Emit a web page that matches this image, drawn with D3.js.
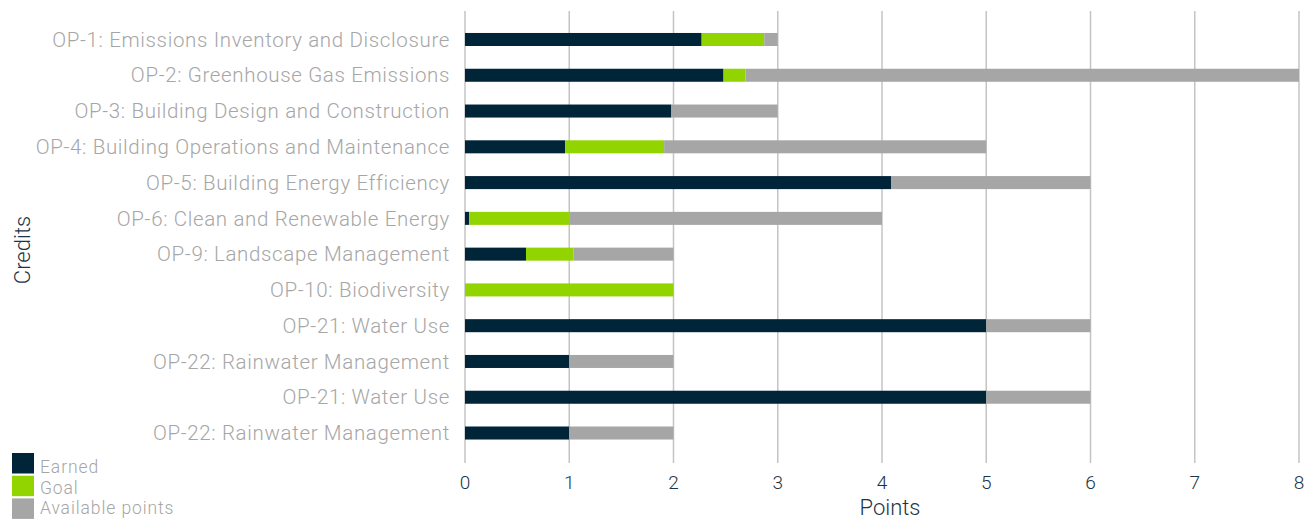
<!DOCTYPE html>
<meta charset="utf-8">
<html>
  <head>
    <style>
      body { margin: 0; background: #fff; }
      text { font-family: Roboto, "Open Sans", sans-serif; font-weight: 300; }
      .credit-label { fill: #a6a6a6; font-size: 20.5px; letter-spacing: 0.65px; }
      .tick-label { fill: #1d3444; font-size: 19px; }
      .axis-title { fill: #1d3444; font-size: 22px; }
      .legend-label { fill: #a6a6a6; font-size: 17.5px; letter-spacing: 0.9px; }
      .grid { stroke: #c4c4c4; stroke-width: 1.5px; }
    </style>
    <script src="https://d3js.org/d3.v7.min.js"></script>
  </head>
  <body>
    <div id="chart"></div>
    <script>
      var credits = ["OP-1: Emissions Inventory and Disclosure", "OP-2: Greenhouse Gas Emissions",
                     "OP-3: Building Design and Construction", "OP-4: Building Operations and Maintenance",
                     "OP-5: Building Energy Efficiency", "OP-6: Clean and Renewable Energy",
                     "OP-9: Landscape Management", "OP-10: Biodiversity", "OP-21: Water Use",
                     "OP-22: Rainwater Management", "OP-21: Water Use", "OP-22: Rainwater Management"];
      // segment lengths, stacked left to right
      var earned    = [2.27, 2.48, 1.98, 0.96, 4.09, 0.04, 0.585, 0, 5, 1, 5, 1];
      var goal      = [0.60, 0.21, 0, 0.95, 0, 0.96, 0.455, 2, 0, 0, 0, 0];
      var available = [0.13, 5.31, 1.02, 3.09, 1.91, 3.0, 0.96, 0, 1, 1, 1, 1];
      var xTicks = [0, 1, 2, 3, 4, 5, 6, 7, 8];
      var seriesNames = ["Earned", "Goal", "Available points"];
      var colors = ["#002438", "#92d400", "#a6a6a6"];

      var width = 1313, height = 519;
      var svg = d3.select("#chart").append("svg")
          .attr("width", width)
          .attr("height", height);

      var x = d3.scaleLinear().domain([0, 8]).range([465, 1299]);
      var y = d3.scaleBand().domain(d3.range(credits.length)).range([21.6, 450.9])
          .paddingInner(0.636).paddingOuter(0.318);

      // grid lines
      svg.selectAll(".grid")
          .data(xTicks)
          .enter().append("line")
            .attr("class", "grid")
            .attr("x1", function(d) { return x(d); })
            .attr("x2", function(d) { return x(d); })
            .attr("y1", 11)
            .attr("y2", 463);

      var rows = credits.map(function(c, i) {
        return { i: i, Earned: earned[i], Goal: goal[i], "Available points": available[i] };
      });
      var stacked = d3.stack().keys(seriesNames)(rows);

      svg.selectAll(".series")
          .data(stacked)
          .enter().append("g")
            .attr("class", "series")
            .style("fill", function(d, i) { return colors[i]; })
          .selectAll("rect")
          .data(function(d) { return d.filter(function(p) { return p[1] > p[0]; }); })
          .enter().append("rect")
            .attr("x", function(d) { return x(d[0]); })
            .attr("y", function(d) { return y(d.data.i); })
            .attr("width", function(d) { return x(d[1]) - x(d[0]); })
            .attr("height", y.bandwidth());

      // category labels
      svg.selectAll(".credit-label")
          .data(credits)
          .enter().append("text")
            .attr("class", "credit-label")
            .attr("x", 450)
            .attr("y", function(d, i) { return y(i) + y.bandwidth() / 2; })
            .attr("dy", "0.35em")
            .style("text-anchor", "end")
            .text(function(d) { return d; });

      // x tick labels
      svg.selectAll(".tick-label")
          .data(xTicks)
          .enter().append("text")
            .attr("class", "tick-label")
            .attr("x", function(d) { return x(d); })
            .attr("y", 489)
            .style("text-anchor", "middle")
            .text(function(d) { return d; });

      svg.append("text")
          .attr("class", "axis-title")
          .attr("x", 890)
          .attr("y", 515)
          .style("text-anchor", "middle")
          .text("Points");

      svg.append("text")
          .attr("class", "axis-title")
          .attr("transform", "translate(30,250) rotate(-90)")
          .style("text-anchor", "middle")
          .text("Credits");

      // legend
      var legend = svg.selectAll(".legend")
          .data(seriesNames)
          .enter().append("g")
            .attr("class", "legend");

      legend.append("rect")
          .attr("x", 12)
          .attr("y", function(d, i) { return 453 + i * 22.7; })
          .attr("width", 22)
          .attr("height", 20.5)
          .style("fill", function(d, i) { return colors[i]; });

      legend.append("text")
          .attr("class", "legend-label")
          .attr("x", 40)
          .attr("y", function(d, i) { return 473 + i * 20.5; })
          .text(function(d) { return d; });
    </script>
  </body>
</html>
